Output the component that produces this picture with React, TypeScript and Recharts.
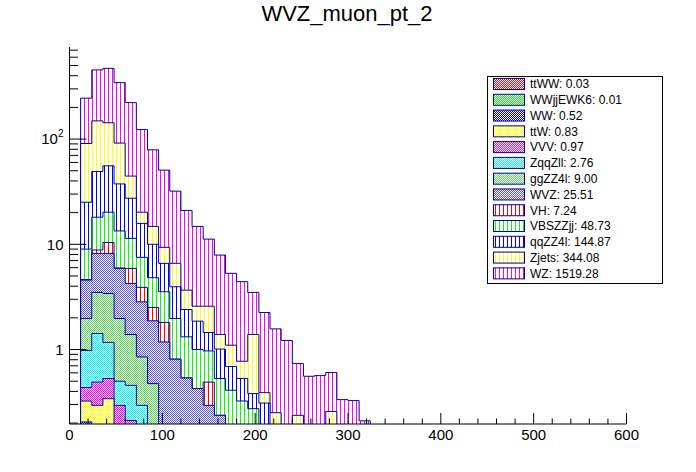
import { ComposedChart, Area, XAxis, YAxis, ReferenceArea } from "recharts";

const FONT = "'Liberation Sans', Arial, Helvetica, sans-serif";
const OUTLINE = "#000099";

// histogram binning: 50 bins of 12 GeV between 0 and 600
const N_BINS = 50;
const BIN_WIDTH = 12;

// per-process content of each bin, bin 0 = [0, 12); missing bins are empty
const ttWW = [0, 0.01, 0.01, 0.01];
const WWjjEWK6 = [0, 0, 0.01];
const WW = [0, 0.195, 0.12, 0.1, 0.06, 0.05];
const ttW = [0, 0.119, 0.155, 0.231, 0.08, 0.06, 0.04, 0.02, 0.01];
const VVV = [0, 0.111, 0.196, 0.189, 0.155, 0.102, 0.06, 0.03];
const ZqqZll = [0, 0.545, 0.929, 0.64, 0.205, 0.245, 0.195, 0.12, 0.06, 0.04];
const ggZZ4l = [0, 0.99, 2.07, 2.24, 1.47, 0.933, 0.555, 0.304, 0.12, 0.1, 0.08, 0.05, 0.03];
const WVZ = [0, 2.6, 4.71, 4.79, 3.93, 2.86, 1.99, 1.4, 0.99, 0.67, 0.457, 0.375, 0.265, 0.237, 0.1, 0.08, 0.06];
const VH = [0, 0.05, 0.63, 2.2, 0.05, 1.65, 1.06, 0.64, 0.63, 0, 0, 0, 0.195];
const VBSZZjj = [0, 4.38, 9.27, 9.8, 7.45, 5.5, 3.62, 2.3, 1.73, 1.16, 0.783, 0.575, 0.48, 0.293, 0.31, 0.244, 0.214, 0.12, 0.05, 0.04];
const qqZZ4l = [0, 16.1, 31.1, 35.5, 24.1, 16.0, 8.28, 5.19, 3.05, 1.98, 1.08, 0.86, 0.48, 0.48, 0.28, 0.206, 0.107, 0.19, 0.1, 0.06, 0.05, 0.04, 0.03, 0.02, 0.02, 0.01];
const Zjets = [0, 65.7, 99.8, 87.3, 54.1, 17.1, 4.4, 4.8, 2.77, 2.65, 1.27, 0.72, 1.13, 0.38, 0.41, 0.244, 1.01, 0.079, 0.101, 0, 0.187, 0, 0, 0.238];
const WZ = [0, 154, 305, 327, 252, 177.5, 102.8, 64.2, 41.3, 25.4, 17.3, 12.2, 8.62, 6.51, 4.2, 3.64, 2.1, 1.86, 1.32, 1.12, 0.498, 0.517, 0.535, 0.346, 0.314, 0.317, 0.21];

// integrals printed in the legend
const TOTALS = [0.03, 0.01, 0.52, 0.83, 0.97, 2.76, 9.0, 25.51, 7.24, 48.73, 144.87, 344.08, 1519.28];

// stack order, bottom first
const PROCESSES = [
  { key: "ttWW", values: ttWW, color: "#ff0000", hatch: "dots" },
  { key: "WWjjEWK6", values: WWjjEWK6, color: "#00ff00", hatch: "dots" },
  { key: "WW", values: WW, color: "#0000ff", hatch: "dots" },
  { key: "ttW", values: ttW, color: "#ffff00", hatch: "dots" },
  { key: "VVV", values: VVV, color: "#ff00ff", hatch: "dots" },
  { key: "ZqqZll", values: ZqqZll, color: "#00ffff", hatch: "dots" },
  { key: "ggZZ4l", values: ggZZ4l, color: "#59d454", hatch: "dots" },
  { key: "WVZ", values: WVZ, color: "#5954d9", hatch: "dots" },
  { key: "VH", values: VH, color: "#ff0000", hatch: "lines" },
  { key: "VBSZZjj", values: VBSZZjj, color: "#00ff00", hatch: "lines" },
  { key: "qqZZ4l", values: qqZZ4l, color: "#0000ff", hatch: "lines" },
  { key: "Zjets", values: Zjets, color: "#ffff00", hatch: "lines" },
  { key: "WZ", values: WZ, color: "#ff00ff", hatch: "lines" },
];

const Y_MIN = 0.196;
const Y_MAX = 750;
const FLOOR = 1e-3; // empty bins sit below the axis and get clipped
const Y_TICKS = [
  0.2, 0.3, 0.4, 0.5, 0.6, 0.7, 0.8, 0.9,
  1, 2, 3, 4, 5, 6, 7, 8, 9,
  10, 20, 30, 40, 50, 60, 70, 80, 90,
  100, 200, 300, 400, 500, 600, 700,
];
const X_MAJOR = [0, 100, 200, 300, 400, 500, 600];
const X_TICKS = Array.from({ length: 31 }, (_, i) => i * 20);

// cumulative stack, one point per bin low edge (stepAfter)
const rows = Array.from({ length: N_BINS + 1 }, (_, i) => {
  const row: Record<string, number> = { x: i * BIN_WIDTH };
  let cum = 0;
  PROCESSES.forEach((p) => {
    cum += p.values[i] ?? 0;
    row[p.key] = Math.max(cum, FLOOR);
  });
  return row;
});

function Patterns() {
  return (
    <defs>
      {PROCESSES.map((p) =>
        p.hatch === "lines" ? (
          <pattern key={p.key} id={`pat-${p.key}`} patternUnits="userSpaceOnUse" width={4} height={4}>
            <rect width={4} height={4} fill="#ffffff" />
            <rect x={0} y={0} width={1} height={4} fill={p.color} />
          </pattern>
        ) : (
          <pattern key={p.key} id={`pat-${p.key}`} patternUnits="userSpaceOnUse" width={2} height={2}>
            <rect width={2} height={2} fill="#ffffff" />
            <rect x={0} y={0} width={1} height={1} fill={p.color} />
            <rect x={1} y={1} width={1} height={1} fill={p.color} />
          </pattern>
        )
      )}
    </defs>
  );
}

function YTick(props: any) {
  const { x, y, payload } = props;
  const v = payload.value;
  const major = v === 1 || v === 10 || v === 100;
  return (
    <g>
      <line x1={x} y1={y} x2={x + (major ? 17 : 8.5)} y2={y} stroke="#000" strokeWidth={1} />
      {major && (
        <text x={x - 6} y={y} dy="0.36em" textAnchor="end" fontSize={15} fontFamily={FONT} fill="#000">
          {v === 100 ? (
            <>
              <tspan>10</tspan>
              <tspan dy={-7} fontSize={10}>2</tspan>
            </>
          ) : (
            String(v)
          )}
        </text>
      )}
    </g>
  );
}

function XTick(props: any) {
  const { x, y, payload } = props;
  const major = X_MAJOR.includes(payload.value);
  return (
    <g>
      <line x1={x} y1={y} x2={x} y2={y - (major ? 11 : 5.5)} stroke="#000" strokeWidth={1} />
      {major && (
        <text x={x} y={y + 16} textAnchor="middle" fontSize={15} fontFamily={FONT} fill="#000">
          {payload.value}
        </text>
      )}
    </g>
  );
}

function LegendBox() {
  return (
    <svg
      width={176}
      height={208}
      style={{ position: "absolute", left: 487, top: 76 }}
    >
      <rect x={0.5} y={0.5} width={175} height={207} fill="#ffffff" stroke="#000" />
      {PROCESSES.map((p, i) => {
        const cy = 8 + i * 15.78;
        return (
          <g key={p.key}>
            <rect x={6.5} y={cy - 5.5} width={31} height={11} fill={`url(#pat-${p.key})`} stroke={OUTLINE} />
            <text x={43} y={cy} dy="0.36em" fontSize={12} fontFamily={FONT} fill="#000">
              {`${p.key}: ${TOTALS[i].toFixed(2)}`}
            </text>
          </g>
        );
      })}
    </svg>
  );
}

export default function App() {
  return (
    <div style={{ position: "absolute", left: 0, top: 0, width: 696, height: 472, background: "#fff" }}>
      <div
        style={{
          position: "absolute",
          left: 0,
          top: 2,
          width: 694,
          textAlign: "center",
          fontFamily: FONT,
          fontSize: 22,
          lineHeight: "24px",
          color: "#000",
        }}
      >
        WVZ_muon_pt_2
      </div>
      <ComposedChart
        width={696}
        height={472}
        data={rows}
        margin={{ top: 47, right: 69.5, bottom: 18, left: 0 }}
      >
        <Patterns />
        <XAxis
          dataKey="x"
          type="number"
          domain={[0, 600]}
          allowDataOverflow
          ticks={X_TICKS}
          interval={0}
          tick={<XTick />}
          tickLine={false}
          tickSize={0}
          tickMargin={0}
          axisLine={{ stroke: "#000" }}
          height={30}
        />
        <YAxis
          type="number"
          scale="log"
          domain={[Y_MIN, Y_MAX]}
          allowDataOverflow
          ticks={Y_TICKS}
          interval={0}
          tick={<YTick />}
          tickLine={false}
          tickSize={0}
          tickMargin={0}
          axisLine={{ stroke: "#000" }}
          width={69.5}
        />
        {[...PROCESSES].reverse().map((p) => (
          <Area
            key={p.key}
            dataKey={p.key}
            type="stepAfter"
            stroke={OUTLINE}
            strokeWidth={1}
            fill={`url(#pat-${p.key})`}
            fillOpacity={1}
            dot={false}
            activeDot={false}
            isAnimationActive={false}
          />
        ))}
        <ReferenceArea fill="none" stroke="#000" strokeWidth={1} fillOpacity={0} ifOverflow="visible" />
      </ComposedChart>
      <LegendBox />
    </div>
  );
}
